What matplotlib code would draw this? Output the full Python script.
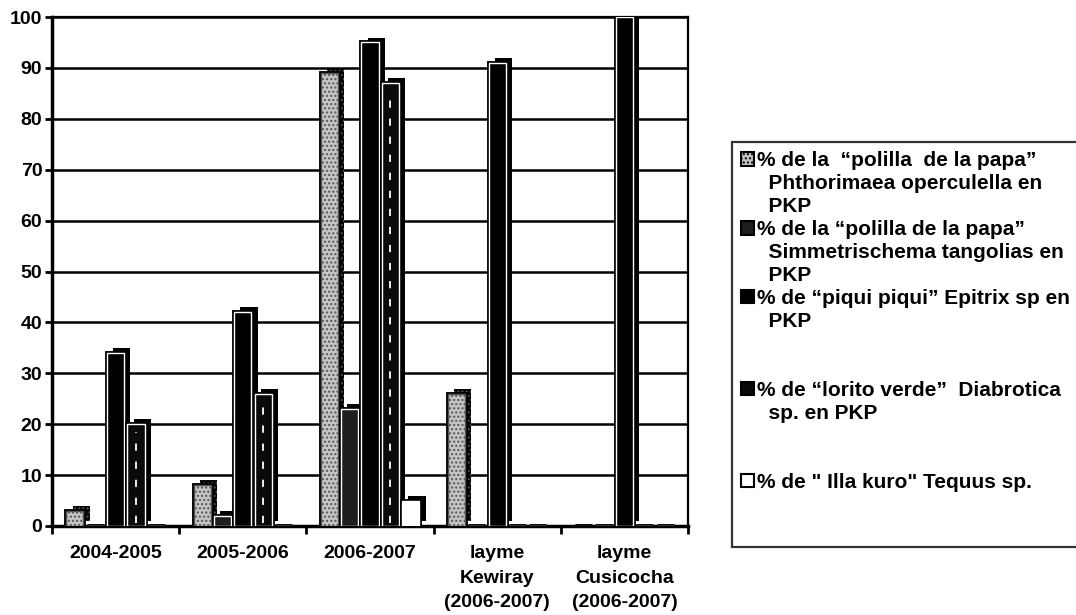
import numpy as np
import matplotlib
matplotlib.use("Agg")
import matplotlib.pyplot as plt
from matplotlib.patches import Rectangle
import matplotlib.patheffects as pe

plt.rcParams['font.family'] = ['Liberation Sans', 'DejaVu Sans']
plt.rcParams['font.weight'] = 'bold'
plt.rcParams['hatch.linewidth'] = 1.0

# ---- data ----
categories = ["2004-2005", "2005-2006", "2006-2007",
              "layme\nKewiray\n(2006-2007)", "layme\nCusicocha\n(2006-2007)"]
phthorimaea = [3, 8, 89, 26, 0]
simmetrischema = [0, 2, 23, 0, 0]
epitrix = [34, 42, 95, 91, 100]
diabrotica = [20, 26, 87, 0, 0]
tequus = [0, 0, 5, 0, 0]

legend_lines = [
    ["% de la  \u201cpolilla  de la papa\u201d", "  Phthorimaea operculella en", "  PKP"],
    ["% de la \u201cpolilla de la papa\u201d", "  Simmetrischema tangolias en", "  PKP"],
    ["% de \u201cpiqui piqui\u201d Epitrix sp en", "  PKP", " ", " "],
    ["% de \u201clorito verde\u201d  Diabrotica", "  sp. en PKP", " ", " "],
    ["% de \" Illa kuro\" Tequus sp.", " ", " "],
]
yticks = list(range(0, 101, 10))

series = [phthorimaea, simmetrischema, epitrix, diabrotica, tequus]
styles = [
    dict(facecolor='#c4c4c4', edgecolor='#555555', hatch='....'),
    dict(facecolor='#1e1e1e', edgecolor='white', hatch=None),
    dict(facecolor='black', edgecolor='white', hatch=None),
    dict(facecolor='#0a0a0a', edgecolor='white', hatch=None),
    dict(facecolor='white', edgecolor='white', hatch=None),
]

fig = plt.figure(figsize=(10.76, 6.15), dpi=100)
ax = fig.add_axes([52/1076, 89/615, 636/1076, 509/615])

x = np.arange(len(categories))
n = len(series)
step = 0.16
width = 0.135
offsets = (np.arange(n) - (n - 1) / 2) * step

effects = [pe.SimplePatchShadow(offset=(4.5, 3.5), shadow_rgbFace='black', alpha=1.0),
           pe.Stroke(linewidth=3.5, foreground='black'), pe.Normal()]

for i, (vals, st) in enumerate(zip(series, styles)):
    bars = ax.bar(x + offsets[i], vals, width, facecolor=st['facecolor'],
                  edgecolor=st['edgecolor'], hatch=st['hatch'], linewidth=1.0,
                  zorder=3 + i * 0.01)
    for b in bars:
        b.set_path_effects(effects)

# dashed white line down diabrotica bars
dvals = np.array(diabrotica, dtype=float)
mask = dvals > 0
ax.vlines((x + offsets[3])[mask], 0.5, dvals[mask] - 1.5, colors='white',
          linestyles=(0, (4, 6)), linewidth=1.3, zorder=3.1)

ax.set_xlim(-0.5, len(categories) - 0.5)
ax.set_ylim(0, 100)
ax.set_yticks(yticks)
ax.set_yticklabels([str(v) for v in yticks], fontsize=14, fontweight='bold')
ax.set_xticks(x)
ax.set_xticklabels(categories, fontsize=14, fontweight='bold', linespacing=1.55)
ax.set_xticks(np.arange(len(categories) + 1) - 0.5, minor=True)
ax.tick_params(axis='x', which='major', length=0, pad=14)
ax.tick_params(axis='x', which='minor', length=6, width=2, direction='out')
ax.tick_params(axis='y', length=5, width=2, direction='out', pad=2)

ax.grid(axis='y', color='black', linewidth=1.8, zorder=1)
ax.set_axisbelow(True)
for s in ['left', 'bottom']:
    ax.spines[s].set_linewidth(2.5)
for s in ['top', 'right']:
    ax.spines[s].set_linewidth(1.6)

# legend, one row per visual line
leg_handles = []
leg_labels = []
for i, lines in enumerate(legend_lines):
    st = styles[i]
    h = Rectangle((0, 0), 1, 1, facecolor=st['facecolor'],
                  edgecolor='black', hatch=st['hatch'], linewidth=1.5)
    leg_handles.append(h)
    leg_labels.append(lines[0])
    for ln in lines[1:]:
        leg_handles.append(Rectangle((0, 0), 1, 1, facecolor='none', edgecolor='none'))
        leg_labels.append(ln)

leg = fig.legend(leg_handles, leg_labels, loc='upper left',
                 bbox_to_anchor=(732/1076, 1 - 142/615),
                 prop=dict(size=15, weight='bold'),
                 handlelength=0.6, handleheight=0.6, handletextpad=0.15,
                 labelspacing=0.19, borderpad=0.45, borderaxespad=0,
                 fancybox=False, frameon=True)
leg.get_frame().set_edgecolor('black')
leg.get_frame().set_linewidth(1.6)

fig.savefig("out.png", dpi=100)
